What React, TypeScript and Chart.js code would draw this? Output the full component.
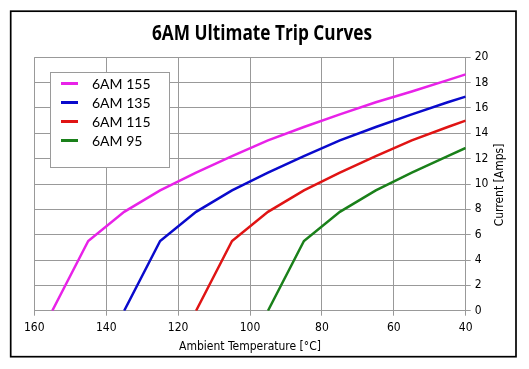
import React, { useEffect, useRef } from 'react';
import { Chart, registerables } from 'chart.js';

Chart.register(...registerables);

// Data
const temps155 = [155, 145, 135, 125, 115, 105, 95, 85, 75, 65, 55, 45, 40];
const amps155 = [0, 5.5, 7.8, 9.5, 10.9, 12.2, 13.45, 14.5, 15.5, 16.45, 17.3, 18.2, 18.65];
const temps135 = [135, 125, 115, 105, 95, 85, 75, 65, 55, 45, 40];
const amps135 = [0, 5.5, 7.8, 9.5, 10.9, 12.2, 13.45, 14.5, 15.5, 16.45, 16.9];
const temps115 = [115, 105, 95, 85, 75, 65, 55, 45, 40];
const amps115 = [0, 5.5, 7.8, 9.5, 10.9, 12.2, 13.45, 14.5, 15.0];
const temps95 = [95, 85, 75, 65, 55, 45, 40];
const amps95 = [0, 5.5, 7.8, 9.5, 10.9, 12.2, 12.85];

const seriesNames = ['6AM 155', '6AM 135', '6AM 115', '6AM 95'];
const seriesColors = ['#e822e8', '#0a0acc', '#e01414', '#1a801a'];
const seriesTemps = [temps155, temps135, temps115, temps95];
const seriesAmps = [amps155, amps135, amps115, amps95];

const titleText = '6AM Ultimate Trip Curves';
const xTitle = 'Ambient Temperature [°C]';
const yTitle = 'Current [Amps]';

const axisFont = '"DejaVu Sans Condensed", "DejaVu Sans", sans-serif';
const titleFont = '"Open Sans", "DejaVu Sans Condensed", sans-serif';
const legendFont = 'Lato, "Open Sans", sans-serif';

const decorPlugin = {
  id: 'decor',
  beforeDraw(chart: any) {
    const ctx = chart.ctx;
    ctx.save();
    ctx.fillStyle = '#ffffff';
    ctx.fillRect(0, 0, chart.width, chart.height);
    ctx.restore();
  },
  afterDraw(chart: any) {
    const ctx = chart.ctx;
    ctx.save();
    // outer frame
    ctx.strokeStyle = '#000000';
    ctx.lineWidth = 1.7;
    ctx.strokeRect(10.7, 11.2, 505.3, 345.5);

    // title (condensed to the reference's width)
    ctx.fillStyle = '#000000';
    ctx.font = `bold 21px ${titleFont}`;
    ctx.textAlign = 'center';
    ctx.textBaseline = 'alphabetic';
    const w = ctx.measureText(titleText).width;
    const sx = w > 220 ? 220 / w : 1;
    ctx.save();
    ctx.translate(262, 40);
    ctx.scale(sx, 1);
    ctx.fillText(titleText, 0, 0);
    ctx.restore();

    // x title
    ctx.font = `12px ${axisFont}`;
    ctx.textBaseline = 'middle';
    ctx.fillText(xTitle, 250, 347);

    // y title (reads bottom to top)
    ctx.save();
    ctx.translate(500, 185);
    ctx.rotate(-Math.PI / 2);
    ctx.fillText(yTitle, 0, 0);
    ctx.restore();

    // legend box
    const bx = 50.5, by = 72.5, bw = 119, bh = 95;
    ctx.fillStyle = '#ffffff';
    ctx.fillRect(bx, by, bw, bh);
    ctx.strokeStyle = '#9a9a9a';
    ctx.lineWidth = 1;
    ctx.strokeRect(bx, by, bw, bh);
    ctx.font = `14px ${legendFont}`;
    ctx.textAlign = 'left';
    ctx.textBaseline = 'middle';
    chart.data.datasets.forEach((ds: any, i: number) => {
      const y = 83.5 + i * 19;
      ctx.strokeStyle = ds.borderColor;
      ctx.lineWidth = 3;
      ctx.beginPath();
      ctx.moveTo(61, y);
      ctx.lineTo(78, y);
      ctx.stroke();
      ctx.fillStyle = '#000000';
      ctx.fillText(ds.label, 92, y + 0.5);
    });
    ctx.restore();
  },
};

export default function App() {
  const ref = useRef<HTMLCanvasElement | null>(null);

  useEffect(() => {
    if (!ref.current) return;
    const datasets = seriesNames.map((name, i) => ({
      label: name,
      data: seriesTemps[i].map((t, j) => ({ x: t, y: seriesAmps[i][j] })),
      borderColor: seriesColors[i],
      backgroundColor: seriesColors[i],
      borderWidth: 2.5,
      pointRadius: 0,
      tension: 0,
      fill: false,
    }));
    const chart = new Chart(ref.current, {
      type: 'line',
      data: { datasets },
      plugins: [decorPlugin],
      options: {
        animation: false,
        responsive: false,
        devicePixelRatio: 1,
        layout: { padding: { left: 34.3, top: 57.3, right: 0, bottom: 0 } },
        plugins: {
          legend: { display: false },
          title: { display: false },
          tooltip: { enabled: false },
        },
        scales: {
          x: {
            type: 'linear',
            reverse: true,
            min: 40,
            max: 160,
            ticks: {
              stepSize: 20,
              color: '#000000',
              font: { family: axisFont, size: 12 },
              padding: 5,
              maxRotation: 0,
            },
            grid: { color: '#999999', lineWidth: 1, tickLength: 5, tickColor: '#999999' },
            border: { color: '#999999' },
            afterFit(scale: any) {
              scale.height = 58.3;
            },
          },
          y: {
            type: 'linear',
            position: 'right',
            min: 0,
            max: 20,
            ticks: {
              stepSize: 2,
              color: '#000000',
              font: { family: axisFont, size: 12 },
              padding: 4,
            },
            grid: { color: '#999999', lineWidth: 1, tickLength: 5, tickColor: '#999999' },
            border: { color: '#999999' },
            afterFit(scale: any) {
              scale.width = 63.3;
            },
          },
        },
      },
    } as any);
    return () => chart.destroy();
  }, []);

  return (
    <div style={{ position: 'fixed', left: 0, top: 0, width: 529, height: 369, background: '#fff' }}>
      <canvas ref={ref} width={529} height={369} style={{ display: 'block', width: 529, height: 369 }} />
    </div>
  );
}
